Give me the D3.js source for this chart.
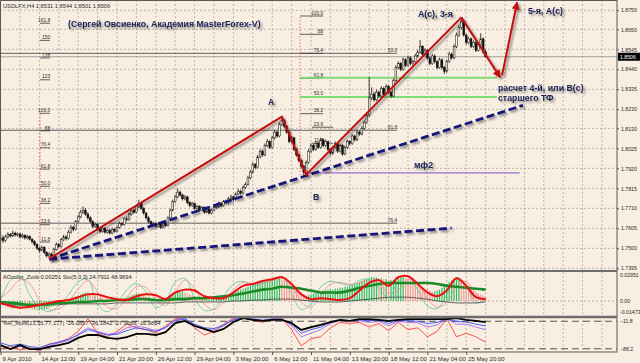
<!DOCTYPE html>
<html>
<head>
<meta charset="utf-8">
<script src="https://cdn.jsdelivr.net/npm/d3@7"></script>
<style>
  body { margin: 0; background: #f8eee2; }
  svg { display: block; font-family: "Liberation Sans", Arial, sans-serif; }
</style>
</head>
<body>
<svg id="chart" width="640" height="363"></svg>
<script>
// ── USDLFX H4, 9 Apr – 27 May 2010 ───────────────────────────────────────
// bar index 0 = 9 Apr 20:00, one bar = 4h, last bar (200) = 27 May 04:00
const header = 'USDLFX,H4  1.8531 1.8544 1.8501 1.8506';
const firstOpen = 1.7540;
const barClose = [
  1.7555,1.7540,1.7560,1.7572,1.7565,1.7580,1.7570,1.7575,1.7560,1.7568,
  1.7555,1.7562,1.7548,1.7535,1.7520,1.7500,1.7490,1.7505,1.7478,1.7460,
  1.7470,1.7458,1.7495,1.7520,1.7510,1.7545,1.7560,1.7552,1.7585,1.7610,
  1.7600,1.7640,1.7665,1.7690,1.7700,1.7680,1.7660,1.7640,1.7615,1.7625,
  1.7600,1.7590,1.7605,1.7585,1.7595,1.7580,1.7600,1.7590,1.7610,1.7630,
  1.7625,1.7655,1.7650,1.7680,1.7700,1.7690,1.7720,1.7735,1.7710,1.7685,
  1.7660,1.7640,1.7625,1.7630,1.7615,1.7625,1.7610,1.7630,1.7620,1.7660,
  1.7700,1.7745,1.7770,1.7795,1.7780,1.7760,1.7770,1.7740,1.7725,1.7735,
  1.7710,1.7720,1.7700,1.7715,1.7690,1.7705,1.7685,1.7700,1.7715,1.7720,
  1.7735,1.7725,1.7745,1.7740,1.7760,1.7770,1.7755,1.7785,1.7800,1.7790,
  1.7820,1.7835,1.7870,1.7900,1.7940,1.7925,1.7980,1.8010,1.7990,1.8040,
  1.8060,1.8030,1.8080,1.8110,1.8090,1.8150,1.8170,1.8140,1.8110,1.8060,
  1.8080,1.8020,1.7990,1.7960,1.7930,1.7900,1.7950,1.8010,1.8040,1.8020,
  1.8050,1.8030,1.8070,1.8040,1.8060,1.8020,1.8000,1.8030,1.8050,1.8010,
  1.8040,1.7995,1.8030,1.8060,1.8050,1.8090,1.8070,1.8110,1.8100,1.8130,
  1.8160,1.8200,1.8290,1.8310,1.8280,1.8320,1.8300,1.8340,1.8310,1.8350,
  1.8320,1.8300,1.8380,1.8450,1.8470,1.8440,1.8490,1.8460,1.8500,1.8470,
  1.8480,1.8510,1.8530,1.8560,1.8520,1.8540,1.8500,1.8470,1.8510,1.8480,
  1.8450,1.8490,1.8450,1.8430,1.8480,1.8520,1.8500,1.8560,1.8620,1.8660,
  1.8690,1.8620,1.8580,1.8600,1.8560,1.8580,1.8540,1.8570,1.8600,1.8531,
  1.8506
];
const barHigh = [
  1.7585,1.7568,1.7571,1.7585,1.7580,1.7592,1.7588,1.7583,1.7582,1.7579,
  1.7574,1.7571,1.7568,1.7553,1.7542,1.7527,1.7509,1.7514,1.7511,1.7485,
  1.7480,1.7477,1.7503,1.7531,1.7528,1.7554,1.7571,1.7568,1.7594,1.7622,
  1.7619,1.7648,1.7676,1.7702,1.7720,1.7711,1.7688,1.7669,1.7647,1.7634,
  1.7631,1.7609,1.7614,1.7611,1.7604,1.7602,1.7609,1.7607,1.7619,1.7641,
  1.7638,1.7664,1.7668,1.7689,1.7712,1.7709,1.7731,1.7755,1.7742,1.7716,
  1.7691,1.7668,1.7646,1.7639,1.7636,1.7633,1.7631,1.7638,1.7637,1.7668,
  1.7709,1.7756,1.7781,1.7815,1.7803,1.7787,1.7779,1.7776,1.7747,1.7744,
  1.7741,1.7729,1.7727,1.7723,1.7721,1.7713,1.7711,1.7708,1.7724,1.7731,
  1.7746,1.7742,1.7754,1.7756,1.7769,1.7781,1.7777,1.7794,1.7812,1.7808,
  1.7831,1.7846,1.7881,1.7912,1.7952,1.7948,1.7991,1.8022,1.8019,1.8051,
  1.8074,1.8067,1.8091,1.8122,1.8118,1.8161,1.8195,1.8178,1.8147,1.8118,
  1.8091,1.8086,1.8028,1.7998,1.7967,1.7938,1.7961,1.8021,1.8052,1.8048,
  1.8061,1.8058,1.8081,1.8077,1.8071,1.8066,1.8028,1.8041,1.8062,1.8057,
  1.8049,1.8047,1.8041,1.8071,1.8068,1.8101,1.8097,1.8121,1.8118,1.8142,
  1.8171,1.8212,1.8400,1.8345,1.8322,1.8333,1.8329,1.8352,1.8348,1.8362,
  1.8358,1.8328,1.8392,1.8462,1.8483,1.8478,1.8502,1.8498,1.8512,1.8508,
  1.8491,1.8522,1.8542,1.8595,1.8567,1.8552,1.8547,1.8508,1.8521,1.8518,
  1.8487,1.8501,1.8497,1.8458,1.8491,1.8532,1.8528,1.8572,1.8633,1.8674,
  1.8715,1.8698,1.8628,1.8612,1.8607,1.8592,1.8587,1.8582,1.8630,1.8607,
  1.8544
];
const barLow = [
  1.7490,1.7528,1.7532,1.7551,1.7556,1.7559,1.7562,1.7561,1.7551,1.7553,
  1.7546,1.7547,1.7541,1.7526,1.7511,1.7492,1.7478,1.7483,1.7470,1.7452,
  1.7445,1.7449,1.7452,1.7488,1.7501,1.7504,1.7538,1.7541,1.7546,1.7578,
  1.7589,1.7594,1.7632,1.7658,1.7681,1.7671,1.7651,1.7632,1.7606,1.7607,
  1.7591,1.7580,1.7583,1.7576,1.7577,1.7572,1.7574,1.7582,1.7584,1.7603,
  1.7616,1.7619,1.7641,1.7644,1.7672,1.7681,1.7684,1.7712,1.7701,1.7677,
  1.7652,1.7631,1.7616,1.7617,1.7607,1.7608,1.7602,1.7604,1.7612,1.7615,
  1.7653,1.7694,1.7737,1.7762,1.7771,1.7751,1.7752,1.7732,1.7716,1.7718,
  1.7702,1.7703,1.7692,1.7694,1.7682,1.7684,1.7677,1.7679,1.7694,1.7708,
  1.7713,1.7717,1.7718,1.7731,1.7733,1.7752,1.7746,1.7749,1.7778,1.7781,
  1.7783,1.7812,1.7828,1.7862,1.7893,1.7914,1.7918,1.7972,1.7981,1.7984,
  1.8031,1.8021,1.8024,1.8072,1.8080,1.8083,1.8141,1.8130,1.8101,1.8052,
  1.8051,1.8010,1.7981,1.7951,1.7920,1.7882,1.7891,1.7943,1.8002,1.8011,
  1.8013,1.8022,1.8024,1.8031,1.8033,1.8011,1.7991,1.7993,1.8023,1.8001,
  1.8003,1.7986,1.7989,1.8022,1.8041,1.8043,1.8061,1.8063,1.8091,1.8093,
  1.8122,1.8153,1.8192,1.8278,1.8270,1.8273,1.8291,1.8292,1.8301,1.8303,
  1.8311,1.8289,1.8293,1.8372,1.8441,1.8431,1.8433,1.8451,1.8453,1.8461,
  1.8462,1.8473,1.8502,1.8522,1.8511,1.8512,1.8491,1.8461,1.8463,1.8471,
  1.8441,1.8443,1.8440,1.8415,1.8424,1.8473,1.8491,1.8493,1.8552,1.8611,
  1.8650,1.8611,1.8570,1.8572,1.8551,1.8553,1.8531,1.8533,1.8562,1.8522,
  1.8501
];

const priceTicks = [1.8750,1.8650,1.8545,1.8440,1.8335,1.8230,1.8130,1.8025,
                    1.7920,1.7815,1.7710,1.7605,1.7500,1.7395];
const timeBars = [0,16,32,48,64,80,96,112,128,144,160,176,192];
const timeLabels = ['9 Apr 2010','14 Apr 12:00','19 Apr 04:00','21 Apr 20:00','26 Apr 12:00',
  '29 Apr 04:00','3 May 20:00','6 May 12:00','11 May 04:00','13 May 20:00',
  '18 May 12:00','21 May 04:00','25 May 20:00'];

// AOcolor_Zotik histogram, one value per bar (x 0.001)
const aoHist = [
  -3,-5,-6,-7,-8,-8,-7,-7,-6,-6,-7,-8,-8,-9,-9,-10,-10,-9,-9,-8,-7,-6,-5,-3,-2,-1,
  0,1,2,3,4,5, 6,7,8,9,9,8, 7,6,5,4,3,2,2,1,1,0,0,
  1,2,3,4,5,6,7,8,8,7,6,5, 4,3,2,2,1,1,2,3,4,6, 8,9,10,10,10,9,8,7,6,5,
  4,3,3,2,2,2,2,3,3,4,4,5,6,
  7,8,9,10,11,12,13,14,15,16,17,18,19,20,21,22,22,23,23,24,24,24,23,
  22,21,19,17,15,13,11,9,7,6,6,7,8,9,
  10,10,11,11,12,12,12,13,13,14,14,15,15,16,17,
  18,19,20,21,22,23,24,25,25,25,24,24,23,23,22,
  22,22,23,24,25,25,24,23,22,21,20,18,16,14,13,
  12,11,10,10,11,12,14,16,18,20, 22,24,25,25,24,22,19, 16,13,11,9,8,7,6,5
];
// indicator lines, one sample every 4 bars (51 samples)
const aoRed = [-2,-5,-7,-6,-4,-2,0,1,4,7, 7,4,2,1,5,7,6,2,9,12, 11,5,3,3,9,16,18,21,23,25,
  18,7,2,3,2,1,3,11,19,22, 16,25,26,18,9,5,11,24,16,4, 2];
const aoGreen = [-1,-2,-3,-4,-4,-3,-2,-2,-1,-1, 0,0,1,1,2,2,1,1,2,2, 3,3,4,5,6,8,10,12,13,15,
  14,13,11,9,9,9,11,14,16,18, 19,19,19,19,19,18,16,15,14,13, 12];
const aoThin = [-3,-4,-4,-5,-5,-4,-4,-3,-3,-3, -3,-3,-2,-2,-2,-2,-2,-2,-2,-1, -1,-1,-1,-1,0,0,1,1,2,2,
  2,1,0,-1,-1,-1,0,1,2,3, 4,4,4,3,2,0,-1,-2,-2,-2, -1];
const stochMain = [36,83,95,48,17,7,21,48,79,86, 24,7,26,60,76,55,17,31,79,88, 40,10,14,45,74,81,69,79,86,93,
  50,12,26,67,81,76,71,83,86,64, 40,81,93,60,21,14,48,88,71,29, 36];
const stochSignal = [40,60,85,75,35,12,14,32,62,82, 55,18,15,42,68,66,36,22,55,84, 64,25,12,30,60,78,75,75,82,90,
  72,30,18,46,74,78,74,77,84,75, 52,60,86,76,40,18,30,68,80,50, 32];
const wprBlack = [-78,-89,-78,-89,-89,-83,-78,-72,-58,-50, -50,-58,-61,-56,-47,-47,-50,-42,-17,-11,
  -25,-33,-42,-33,-14,-3,-8,-11,-8,-8, -17,-36,-28,-22,-14,-8,-11,-6,-6,-8, -11,-8,-6,-6,-6,-6,-6,-3,-8,-11, -14];
const wprBlue = [-72,-80,-75,-82,-85,-76,-70,-62,-50,-35, -42,-50,-48,-38,-30,-35,-40,-30,-10,-6,
  -20,-30,-32,-22,-8,-3,-6,-9,-6,-6, -20,-45,-35,-28,-15,-8,-10,-8,-10,-9, -18,-10,-10,-12,-18,-15,-6,-12,-14,-20, -25];
const wprPurple = [-80,-88,-82,-88,-92,-80,-72,-65,-48,-30, -40,-48,-45,-30,-25,-30,-38,-28,-8,-4,
  -22,-35,-36,-25,-6,-3,-5,-10,-5,-5, -25,-55,-45,-35,-18,-10,-12,-10,-15,-12, -25,-12,-15,-16,-28,-22,-5,-20,-20,-28, -35];
const wprRed = [-89,-80,-92,-85,-95,-75,-70,-60,-40,-5, -45,-55,-40,-20,-30,-35,-45,-25,-5,-3,
  -30,-50,-40,-20,-3,-2,-8,-15,-5,-5, -35,-80,-60,-55,-30,-15,-18,-15,-28,-18, -38,-15,-35,-30,-55,-40,-4,-55,-45,-55, -70];
const aoAxis = [0.02951, 0, -0.01473];
const aoAxisText = ['0.02951', '0.00', '-0.01473'];
const wprLevels = [-11.8, -88.2];

// fibonacci grids: level captions and the price each sits at
const fibALabels = ['11.8','23.6','38.2','50.0','61.8','76.4','88','100.0','123','138','150','161.8'];
const fibAPrices = [1.7533,1.7624,1.7736,1.7826,1.7916,1.8028,1.8117,1.8209,1.8385,1.8500,1.8592,1.8682];
const fibASpan = [16.25, 20.4];
const fibBLabels = ['100.0','88','76.4','61.8','50.0','38.2'];
const fibBPrices = [1.8720,1.8624,1.8524,1.8393,1.8296,1.8207];
const fibBSpan = [123.5, 133];
const fibDLabels = ['23.6','11.8'];
const fibDPrices = [1.8136,1.8052];
const fibDSpan = [128.4, 137.1];
const fibCLabels = ['50.0','61.8','76.4'];
const fibCPrices = [1.8524,1.8120,1.7632];
const fibCSpan = [-0.3, 163.5];
const fibVertBars = [16.25, 123.5];
const fibVertPrices = [[1.7443, 1.8209], [1.7884, 1.8720]];
const greenPrices = [1.8396, 1.8295];
const greenSpan = [123.5, 204.7];

// wave marks
const waveBars = [20, 116, 126, 190];
const wavePrices = [1.7445, 1.8191, 1.7886, 1.8713];
const arrowBars = [[190, 206], [206.8, 213]];
const arrowPrices = [[1.8713, 1.8398], [1.8409, 1.8792]];
const blueBars = [[20, 215.4], [20, 186]];
const bluePrices = [[1.7443, 1.8251], [1.7443, 1.7606]];
const purpleSpan = [126, 214];
const purplePrice = 1.7896;

const noteTexts = ['(Сергей Овсиенко, Академия MasterForex-V)', 'A', 'B', 'мф2', 'A(c), 3-я',
  '5-я, А(с)', 'расчет 4-й, или В(с)', 'старшего ТФ'];
const noteBars = [27.8, 110.3, 128.8, 170.5, 172.1, 217.5, 205.1, 205.1];
const notePrices = [1.8661, 1.8251, 1.7753, 1.7921, 1.8713, 1.8729, 1.8325, 1.8272];

const wprText = '%R_Multi(21,55,77,177) -16.0857 -36.1842 -27.9688 -16.9884';
const aoText = 'AOcolor_Zotik 0.00251  Sto(5,3,3) 24.7911 48.9694';

// ── layout ──────────────────────────────────────────────────────────
const W = 640, H = 363, AX = 617;
const BG = '#f8eee2', GRID = '#a39d96', INK = '#2b2b2b', NAVY = '#1b2358';
const FONT = '"Liberation Sans", Arial, sans-serif';

const x = d3.scaleLinear().domain([0, 200]).range([0.6, 0.6 + 200 * 2.425]);
const y = d3.scaleLinear().domain([1.7395, 1.8750]).range([268.3, 10.3]);
const yAO = d3.scaleLinear().domain([-0.01473, 0.02951]).range([315, 273]);
const ySto = d3.scaleLinear().domain([0, 100]).range([314.5, 273.5]);
const yWpr = d3.scaleLinear().domain([-100, 0]).range([353, 317]);
const lineBars = d3.range(0, 201, 4);

const svg = d3.select('#chart');
const defs = svg.append('defs');
defs.append('filter').attr('id', 'shadow').attr('filterUnits', 'userSpaceOnUse')
  .attr('x', 0).attr('y', 0).attr('width', W).attr('height', H)
  .append('feDropShadow').attr('dx', 2).attr('dy', 2).attr('stdDeviation', 1.1)
  .attr('flood-color', '#000').attr('flood-opacity', 0.4);
[['clipMain', 0, 270], ['clipAO', 272, 44], ['clipWpr', 318, 34]].forEach(([id, top, h]) =>
  defs.append('clipPath').attr('id', id).append('rect').attr('x', 0).attr('y', top).attr('width', AX).attr('height', h));
defs.append('marker').attr('id', 'arrow').attr('viewBox', '0 0 10 10').attr('refX', 9).attr('refY', 5)
  .attr('markerWidth', 9).attr('markerHeight', 8).attr('markerUnits', 'userSpaceOnUse').attr('orient', 'auto')
  .append('path').attr('d', 'M0,0L10,5L0,10z').attr('fill', '#c40f0f');

svg.append('rect').attr('width', W).attr('height', H).attr('fill', BG);

// grid
const grid = svg.append('g').attr('stroke', GRID).attr('stroke-width', 0.7).attr('stroke-dasharray', '2,2');
grid.selectAll('.v').data(d3.range(0, 255, 8)).join('line')
  .attr('x1', d => x(d)).attr('x2', d => x(d)).attr('y1', 0).attr('y2', 352);
grid.selectAll('.h').data(priceTicks).join('line')
  .attr('x1', 0).attr('x2', AX).attr('y1', d => y(d)).attr('y2', d => y(d));
grid.append('line').attr('x1', 0).attr('x2', AX).attr('y1', yAO(0)).attr('y2', yAO(0));

// ── main panel ──────────────────────────────────────────────────────
const main = svg.append('g').attr('clip-path', 'url(#clipMain)');

function fib(labels, prices, span, labelAt) {
  const g = main.append('g');
  g.selectAll('line').data(prices).join('line')
    .attr('x1', x(span[0])).attr('x2', x(span[1]))
    .attr('y1', d => y(d)).attr('y2', d => y(d))
    .attr('stroke', '#3a3a3a').attr('stroke-width', 0.8);
  g.selectAll('text').data(labels).join('text')
    .attr('x', x(labelAt)).attr('y', (d, i) => y(prices[i]) - 1.3)
    .attr('text-anchor', 'end').attr('font-size', 4.8).attr('fill', INK).text(d => d);
}
fib(fibCLabels, fibCPrices, fibCSpan, fibCSpan[1]);
fib(fibALabels, fibAPrices, fibASpan, fibASpan[1]);
fib(fibBLabels, fibBPrices, fibBSpan, fibBSpan[1]);
fib(fibDLabels, fibDPrices, fibDSpan, fibBSpan[1]);

main.selectAll('.fibv').data(fibVertBars).join('line')
  .attr('x1', d => x(d)).attr('x2', d => x(d))
  .attr('y1', (d, i) => y(fibVertPrices[i][0])).attr('y2', (d, i) => y(fibVertPrices[i][1]))
  .attr('stroke', '#e0303a').attr('stroke-width', 0.8).attr('stroke-dasharray', '1.2,2');

main.selectAll('.green').data(greenPrices).join('line')
  .attr('x1', x(greenSpan[0])).attr('x2', x(greenSpan[1]))
  .attr('y1', d => y(d)).attr('y2', d => y(d))
  .attr('stroke', '#7fdc78').attr('stroke-width', 2);

// bid line
const last = barClose[barClose.length - 1];
main.append('line').attr('x1', 0).attr('x2', AX).attr('y1', y(last)).attr('y2', y(last))
  .attr('stroke', '#8c8c8c').attr('stroke-width', 0.8);

// candles
const bars = barClose.map((c, i) => ({ i, o: i ? barClose[i - 1] : firstOpen, h: barHigh[i], l: barLow[i], c }));
const gBars = main.append('g');
gBars.selectAll('line').data(bars).join('line')
  .attr('x1', d => x(d.i)).attr('x2', d => x(d.i))
  .attr('y1', d => y(d.h)).attr('y2', d => y(d.l))
  .attr('stroke', '#111').attr('stroke-width', 0.8);
gBars.selectAll('rect').data(bars).join('rect')
  .attr('x', d => x(d.i) - 0.9).attr('width', 1.8)
  .attr('y', d => y(Math.max(d.o, d.c)))
  .attr('height', d => Math.max(0.7, Math.abs(y(d.o) - y(d.c))))
  .attr('fill', d => d.c >= d.o ? BG : '#111').attr('stroke', '#111').attr('stroke-width', 0.5);

// purple level
main.append('line').attr('x1', x(purpleSpan[0])).attr('x2', x(purpleSpan[1]))
  .attr('y1', y(purplePrice)).attr('y2', y(purplePrice))
  .attr('stroke', '#9a6fd0').attr('stroke-width', 1.4);

// blue dashed trend lines
main.selectAll('.blue').data(blueBars).join('line')
  .attr('x1', d => x(d[0])).attr('x2', d => x(d[1]))
  .attr('y1', (d, i) => y(bluePrices[i][0])).attr('y2', (d, i) => y(bluePrices[i][1]))
  .attr('stroke', '#17187a').attr('stroke-width', 2.8).attr('stroke-dasharray', '8,3.5')
  .attr('filter', 'url(#shadow)');

// red wave count
main.append('path')
  .attr('d', d3.line().x(d => x(d)).y((d, i) => y(wavePrices[i]))(waveBars))
  .attr('fill', 'none').attr('stroke', '#c40f0f').attr('stroke-width', 2)
  .attr('stroke-linejoin', 'miter').attr('filter', 'url(#shadow)');
main.selectAll('.arrow').data(arrowBars).join('line')
  .attr('x1', d => x(d[0])).attr('x2', d => x(d[1]))
  .attr('y1', (d, i) => y(arrowPrices[i][0])).attr('y2', (d, i) => y(arrowPrices[i][1]))
  .attr('stroke', '#c40f0f').attr('stroke-width', 2)
  .attr('marker-end', 'url(#arrow)').attr('filter', 'url(#shadow)');

// notes
svg.append('g').selectAll('text').data(noteTexts).join('text')
  .attr('x', (d, i) => x(noteBars[i])).attr('y', (d, i) => y(notePrices[i]))
  .attr('font-size', 8.8).attr('font-weight', 'bold').attr('fill', NAVY)
  .attr('filter', 'url(#shadow)').text(d => d);

svg.append('text').attr('x', 3).attr('y', 7.5).attr('font-size', 5.7).attr('fill', INK).text(header);

// ── AO / stochastic panel ───────────────────────────────────────────
const ao = svg.append('g').attr('clip-path', 'url(#clipAO)');
ao.selectAll('rect').data(aoHist).join('rect')
  .attr('x', (d, i) => x(i) - 0.6).attr('width', 1.2)
  .attr('y', d => yAO(Math.max(0, d / 1000)))
  .attr('height', d => Math.abs(yAO(d / 1000) - yAO(0)))
  .attr('fill', (d, i) => (i === 0 || d >= aoHist[i - 1]) ? '#2fbf60' : '#f29a96');
const lineOf = (ys, vals, k = 1) => d3.line().curve(d3.curveCatmullRom)
  .x((d, i) => x(lineBars[i])).y(d => ys(d * k))(vals);
[[stochSignal, ySto, 1, '#f08a86', 0.8], [stochMain, ySto, 1, '#58c99a', 0.8],
 [aoThin, yAO, 0.001, '#3d3d3d', 0.8], [aoGreen, yAO, 0.001, '#1d8a28', 2.6],
 [aoRed, yAO, 0.001, '#ee1010', 2]].forEach(([vals, ys, k, col, w]) =>
  ao.append('path').attr('d', lineOf(ys, vals, k)).attr('fill', 'none')
    .attr('stroke', col).attr('stroke-width', w));
svg.append('text').attr('x', 3).attr('y', 279).attr('font-size', 5.7).attr('fill', INK).text(aoText);

// ── %R panel ────────────────────────────────────────────────────────
const wpr = svg.append('g').attr('clip-path', 'url(#clipWpr)');
wpr.selectAll('line').data(wprLevels).join('line')
  .attr('x1', 0).attr('x2', AX).attr('y1', d => yWpr(d)).attr('y2', d => yWpr(d))
  .attr('stroke', '#555').attr('stroke-width', 1.1).attr('stroke-dasharray', '7,4');
[[wprRed, '#ff2a2a', 0.8], [wprPurple, '#a86be8', 0.9], [wprBlue, '#3050ff', 0.9], [wprBlack, '#000', 1.8]]
  .forEach(([vals, col, w]) => wpr.append('path')
    .attr('d', d3.line().x((d, i) => x(lineBars[i])).y(d => yWpr(d))(vals))
    .attr('fill', 'none').attr('stroke', col).attr('stroke-width', w));
svg.append('text').attr('x', 3).attr('y', 325).attr('font-size', 5.7).attr('fill', INK).text(wprText);

// ── frames and axes ─────────────────────────────────────────────────
const frame = svg.append('g').attr('fill', 'none');
frame.append('rect').attr('x', 0.5).attr('y', 0.5).attr('width', AX - 0.5).attr('height', 351.5)
  .attr('stroke', '#5a5a5a').attr('stroke-width', 1);
frame.append('line').attr('x1', 0).attr('x2', AX).attr('y1', 271).attr('y2', 271)
  .attr('stroke', '#6e6e6e').attr('stroke-width', 2);
frame.append('line').attr('x1', 0).attr('x2', AX).attr('y1', 317).attr('y2', 317)
  .attr('stroke', '#6e6e6e').attr('stroke-width', 2.5);

const pAxis = svg.append('g').attr('transform', `translate(${AX},0)`)
  .call(d3.axisRight(y).tickValues(priceTicks).tickFormat(d3.format('.4f')).tickSize(2).tickPadding(2));
pAxis.attr('font-size', 5.2).attr('font-family', FONT);
pAxis.select('.domain').remove();
pAxis.selectAll('line').attr('stroke', '#555');
pAxis.selectAll('text').attr('fill', INK);

svg.append('rect').attr('x', AX + 1).attr('y', y(last) - 4).attr('width', 22).attr('height', 8).attr('fill', '#000');
svg.append('text').attr('x', AX + 3).attr('y', y(last) + 2).attr('font-size', 5.2).attr('fill', '#fff')
  .text(d3.format('.4f')(last));

svg.append('g').selectAll('text').data(aoAxis).join('text')
  .attr('x', AX + 3).attr('y', (d, i) => yAO(d) + [4, 2, -1][i])
  .attr('font-size', 5.2).attr('fill', INK).text((d, i) => aoAxisText[i]);
svg.append('g').selectAll('text').data(wprLevels).join('text')
  .attr('x', AX + 3).attr('y', d => yWpr(d) + 2)
  .attr('font-size', 5.2).attr('fill', INK).text(d => d3.format('.1f')(d));

const tAxis = svg.append('g').attr('transform', 'translate(0,352)')
  .call(d3.axisBottom(x).tickValues(timeBars).tickFormat((d, j) => timeLabels[j]).tickSize(3).tickPadding(2));
tAxis.attr('font-size', 6).attr('font-family', FONT);
tAxis.select('.domain').remove();
tAxis.selectAll('line').attr('stroke', '#555');
tAxis.selectAll('text').attr('text-anchor', 'start').attr('x', 1.5).attr('fill', INK);
</script>
</body>
</html>
